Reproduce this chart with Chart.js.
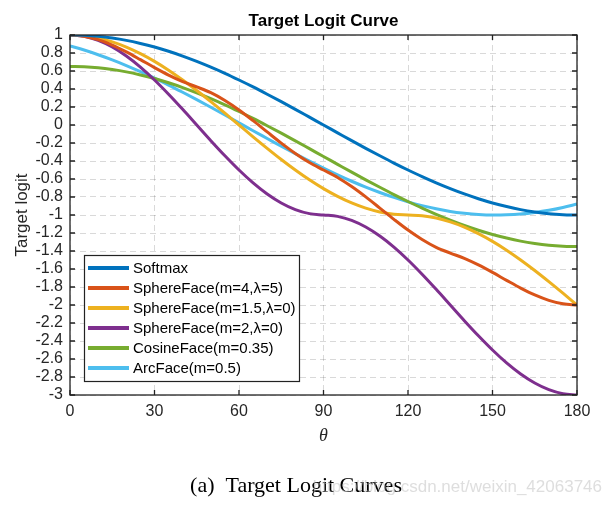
<!DOCTYPE html>
<html>
<head>
<meta charset="utf-8">
<script src="https://cdn.jsdelivr.net/npm/chart.js@4.4.0/dist/chart.umd.min.js"></script>
<style>
  html, body { margin: 0; padding: 0; background: #ffffff; }
  #wrap { width: 611px; height: 506px; position: relative; }
</style>
</head>
<body>
<div id="wrap"><canvas id="c" width="611" height="506"></canvas></div>
<script>
// ---- Data ----
const theta = [0,5,10,15,20,25,30,35,40,45,50,55,60,65,70,75,80,85,90,95,100,105,110,115,120,125,130,135,140,145,150,155,160,165,170,175,180];

const softmax = [1,0.996,0.985,0.966,0.940,0.906,0.866,0.819,0.766,0.707,0.643,0.574,0.5,0.423,0.342,0.259,0.174,0.087,0,-0.087,-0.174,-0.259,-0.342,-0.423,-0.5,-0.574,-0.643,-0.707,-0.766,-0.819,-0.866,-0.906,-0.940,-0.966,-0.985,-0.996,-1];

const sphereM4L5 = [1,0.987,0.948,0.888,0.812,0.726,0.638,0.555,0.482,0.423,0.359,0.272,0.167,0.048,-0.077,-0.201,-0.316,-0.417,-0.5,-0.583,-0.684,-0.799,-0.923,-1.048,-1.167,-1.272,-1.359,-1.423,-1.482,-1.555,-1.638,-1.726,-1.812,-1.888,-1.948,-1.987,-2];

const sphereM15L0 = [1,0.991,0.966,0.924,0.866,0.793,0.707,0.609,0.5,0.383,0.259,0.131,0,-0.131,-0.259,-0.383,-0.5,-0.609,-0.707,-0.793,-0.866,-0.924,-0.966,-0.991,-1,-1.009,-1.034,-1.076,-1.134,-1.207,-1.293,-1.391,-1.5,-1.617,-1.741,-1.869,-2];

const sphereM2L0 = [1,0.985,0.940,0.866,0.766,0.643,0.5,0.342,0.174,0,-0.174,-0.342,-0.5,-0.643,-0.766,-0.866,-0.940,-0.985,-1,-1.015,-1.060,-1.134,-1.234,-1.357,-1.5,-1.658,-1.826,-2,-2.174,-2.342,-2.5,-2.643,-2.766,-2.866,-2.940,-2.985,-3];

const cosineFace = [0.65,0.646,0.635,0.616,0.590,0.556,0.516,0.469,0.416,0.357,0.293,0.224,0.15,0.073,-0.008,-0.091,-0.176,-0.263,-0.35,-0.437,-0.524,-0.609,-0.692,-0.773,-0.85,-0.924,-0.993,-1.057,-1.116,-1.169,-1.216,-1.256,-1.290,-1.316,-1.335,-1.346,-1.35];

const arcFace = [0.878,0.833,0.781,0.724,0.661,0.593,0.520,0.444,0.364,0.282,0.197,0.111,0.024,-0.064,-0.150,-0.236,-0.320,-0.401,-0.479,-0.554,-0.625,-0.690,-0.750,-0.805,-0.854,-0.896,-0.931,-0.960,-0.980,-0.994,-1.000,-0.998,-0.989,-0.972,-0.948,-0.916,-0.878];

const seriesLabels = ['Softmax','SphereFace(m=4,λ=5)','SphereFace(m=1.5,λ=0)','SphereFace(m=2,λ=0)','CosineFace(m=0.35)','ArcFace(m=0.5)'];
const seriesColors = ['#0072BD','#D95319','#EDB120','#7E2F8E','#77AC30','#4DBEEE'];
const seriesValues = [softmax, sphereM4L5, sphereM15L0, sphereM2L0, cosineFace, arcFace];

const xTicks = [0,30,60,90,120,150,180];
const yTicks = [1,0.8,0.6,0.4,0.2,0,-0.2,-0.4,-0.6,-0.8,-1,-1.2,-1.4,-1.6,-1.8,-2,-2.2,-2.4,-2.6,-2.8,-3];

const chartTitle = 'Target Logit Curve';
const xTitle = 'θ';
const yTitle = 'Target logit';
const caption = '(a)  Target Logit Curves';
const watermark = 'https://blog.csdn.net/weixin_42063746';

// ---- Build datasets ----
const datasets = seriesValues.map((vals, i) => ({
  label: seriesLabels[i],
  data: theta.map((t, j) => ({ x: t, y: vals[j] })),
  borderColor: seriesColors[i],
  backgroundColor: seriesColors[i],
  borderWidth: 3,
  pointRadius: 0,
  cubicInterpolationMode: 'monotone',
  fill: false
}));

const TICK_COLOR = '#262626';

const decorPlugin = {
  id: 'decor',
  afterDraw(chart) {
    const { ctx, chartArea: a, scales } = chart;
    ctx.save();
    // Axes box
    ctx.strokeStyle = '#222';
    ctx.lineWidth = 1.3;
    ctx.strokeRect(a.left, a.top, a.right - a.left, a.bottom - a.top);
    // Inward ticks
    const tl = 5;
    ctx.beginPath();
    xTicks.forEach(v => {
      const px = scales.x.getPixelForValue(v);
      ctx.moveTo(px, a.bottom); ctx.lineTo(px, a.bottom - tl);
      ctx.moveTo(px, a.top); ctx.lineTo(px, a.top + tl);
    });
    yTicks.forEach(v => {
      const py = scales.y.getPixelForValue(v);
      ctx.moveTo(a.left, py); ctx.lineTo(a.left + tl, py);
      ctx.moveTo(a.right, py); ctx.lineTo(a.right - tl, py);
    });
    ctx.stroke();

    // Title centred over the plot area
    ctx.fillStyle = '#000';
    ctx.font = 'bold 17px "Liberation Sans", Arial, sans-serif';
    ctx.textAlign = 'center';
    ctx.textBaseline = 'middle';
    ctx.fillText(chartTitle, (a.left + a.right) / 2, 21);

    // Legend inside plot
    const lx = 84, ly = 255, lw = 215, lh = 126;
    ctx.fillStyle = '#fff';
    ctx.fillRect(lx, ly, lw, lh);
    ctx.strokeStyle = '#222';
    ctx.lineWidth = 1.2;
    ctx.strokeRect(lx + 0.5, ly + 0.5, lw, lh);
    ctx.font = '15px "Liberation Sans", Arial, sans-serif';
    ctx.textBaseline = 'middle';
    ctx.textAlign = 'left';
    chart.data.datasets.forEach((ds, i) => {
      const y = ly + 13 + i * 20;
      ctx.strokeStyle = ds.borderColor;
      ctx.lineWidth = 4;
      ctx.beginPath();
      ctx.moveTo(88, y); ctx.lineTo(129, y);
      ctx.stroke();
      ctx.fillStyle = '#000';
      ctx.fillText(ds.label, 133, y + 1);
    });

    // Caption
    ctx.fillStyle = '#000';
    ctx.font = '22px "Liberation Serif", "Times New Roman", serif';
    ctx.textAlign = 'center';
    ctx.fillText(caption, 296, 486);
    // Watermark
    ctx.fillStyle = 'rgba(190,190,190,0.5)';
    ctx.font = '17px "Liberation Sans", Arial, sans-serif';
    ctx.textAlign = 'right';
    ctx.fillText(watermark, 602, 487);
    ctx.restore();
  }
};

new Chart(document.getElementById('c'), {
  type: 'line',
  data: { datasets },
  options: {
    responsive: false,
    animation: false,
    devicePixelRatio: 1,
    layout: { padding: { left: 0, right: 34, top: 35, bottom: 56 } },
    plugins: {
      legend: { display: false },
      tooltip: { enabled: false },
      title: { display: false }
    },
    scales: {
      x: {
        type: 'linear',
        min: 0, max: 180,
        afterBuildTicks: s => { s.ticks = xTicks.map(v => ({ value: v })); },
        afterFit: s => { s.height = 55; },
        grid: { color: 'rgba(0,0,0,0.15)', lineWidth: 1, drawTicks: false },
        border: { display: false, dash: [6, 4] },
        ticks: {
          color: TICK_COLOR, padding: 7, maxRotation: 0, autoSkip: false,
          font: { family: '"Liberation Sans", Arial, sans-serif', size: 16 },
          callback: v => String(v)
        },
        title: {
          display: true, text: xTitle, color: TICK_COLOR,
          font: { family: '"Liberation Serif", "Times New Roman", serif', size: 18, style: 'italic' },
          padding: { top: 0, bottom: 3 }
        }
      },
      y: {
        type: 'linear',
        min: -3, max: 1,
        afterBuildTicks: s => { s.ticks = yTicks.map(v => ({ value: v })); },
        afterFit: s => { s.width = 70; },
        grid: { color: 'rgba(0,0,0,0.15)', lineWidth: 1, drawTicks: false },
        border: { display: false, dash: [6, 4] },
        ticks: {
          color: TICK_COLOR, padding: 7, autoSkip: false,
          font: { family: '"Liberation Sans", Arial, sans-serif', size: 16 },
          callback: v => String(Number(v.toFixed(1)))
        },
        title: {
          display: true, text: yTitle, color: TICK_COLOR,
          font: { family: '"Liberation Sans", Arial, sans-serif', size: 17 },
          padding: { top: 12, bottom: 0 }
        }
      }
    }
  },
  plugins: [decorPlugin]
});
</script>
</body>
</html>
